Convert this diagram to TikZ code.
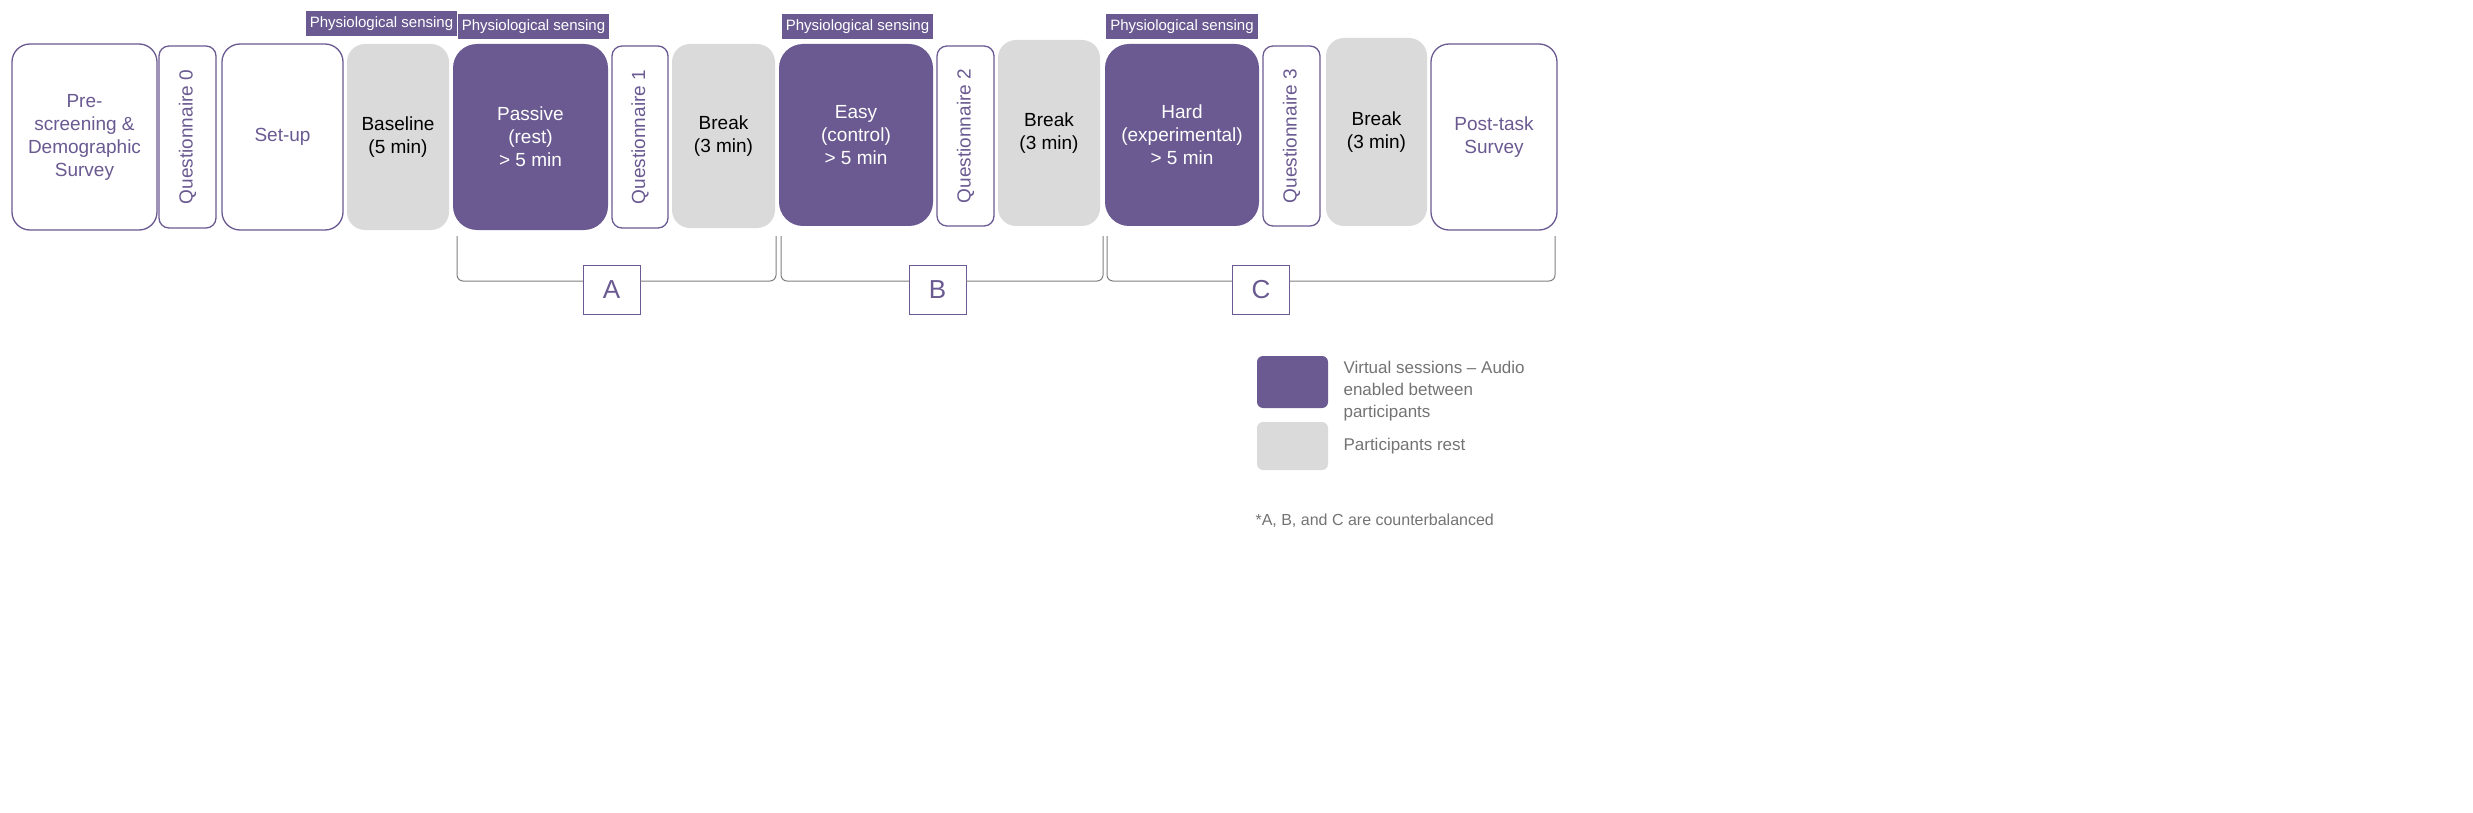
\documentclass[tikz,border=0pt]{standalone}
\usepackage{fontspec}
\setmainfont{Liberation Sans}
\definecolor{pur}{HTML}{6A5A91}
\definecolor{gr}{HTML}{DADADA}
\begin{document}
\begin{tikzpicture}[x=1pt,y=-1pt,
 base/.style={rounded corners=18pt,align=center,font=\fontsize{19}{23}\selectfont,inner sep=2pt},
 wbox/.style={base,draw=pur,line width=1.3pt,fill=white,text=pur},
 gbox/.style={base,fill=gr,text=black},
 pbox/.style={base,fill=pur,text=white,rounded corners=24pt},
 qbox/.style={wbox,rounded corners=10pt},
 tag/.style={fill=pur,text=white,font=\fontsize{15}{18}\selectfont,minimum height=25pt,inner sep=4pt},
 lbl/.style={draw=pur,line width=1pt,fill=white,font=\fontsize{26}{30}\selectfont,text=pur,minimum width=57pt,minimum height=49pt},
 br/.style={draw=gray,line width=1pt,rounded corners=6pt}]
\useasboundingbox (0,0) rectangle (2473,813);
\node[wbox,minimum width=145pt,minimum height=186pt] (pre) at (84.5,137) {Pre-\\screening \&\\Demographic\\Survey};
\node[qbox,minimum width=57pt,minimum height=182pt] (q0) at (187.5,137) {\rotatebox{90}{Questionnaire 0}};
\node[wbox,minimum width=121pt,minimum height=186pt] (set) at (282.5,137) {Set-up};
\node[gbox,minimum width=102pt,minimum height=186pt] (bas) at (398,137) {Baseline\\(5 min)};
\node[tag] (t0) at (381.5,24) {Physiological sensing};
\node[pbox,minimum width=155pt,minimum height=186pt] (pas) at (530.5,137) {Passive\\(rest)\\> 5 min};
\node[tag] (t1) at (533.5,27) {Physiological sensing};
\node[qbox,minimum width=56pt,minimum height=182pt] (q1) at (640,137) {\rotatebox{90}{Questionnaire 1}};
\node[gbox,minimum width=103pt,minimum height=184pt] (b1) at (723.5,136) {Break\\(3 min)};
\node[pbox,minimum width=154pt,minimum height=182pt] (easy) at (856,135) {Easy\\(control)\\> 5 min};
\node[tag] (t2) at (857.5,27) {Physiological sensing};
\node[qbox,minimum width=57pt,minimum height=180pt] (q2) at (965.5,136) {\rotatebox{90}{Questionnaire 2}};
\node[gbox,minimum width=102pt,minimum height=186pt] (b2) at (1049,133) {Break\\(3 min)};
\node[pbox,minimum width=154pt,minimum height=182pt] (hard) at (1182,135) {Hard\\(experimental)\\> 5 min};
\node[tag] (t3) at (1182,27) {Physiological sensing};
\node[qbox,minimum width=57pt,minimum height=180pt] (q3) at (1291.5,136) {\rotatebox{90}{Questionnaire 3}};
\node[gbox,minimum width=101pt,minimum height=188pt] (b3) at (1376.5,132) {Break\\(3 min)};
\node[wbox,minimum width=126pt,minimum height=186pt] (post) at (1494,137) {Post-task\\Survey};
\node[lbl] (A) at (611.5,289.5) {A};
\node[lbl] (B) at (937.5,289.5) {B};
\node[lbl] (C) at (1261,289.5) {C};
\coordinate (aL) at (583,281); \coordinate (aR) at (640,281);
\coordinate (bL) at (909,281); \coordinate (bR) at (966,281);
\coordinate (cL) at (1232.5,281); \coordinate (cR) at (1289.5,281);
\draw[br] (457,236) -- (457,281) -- (aL);
\draw[br] (776,236) -- (776,281) -- (aR);
\draw[br] (781,236) -- (781,281) -- (bL);
\draw[br] (1103,236) -- (1103,281) -- (bR);
\draw[br] (1107,236) -- (1107,281) -- (cL);
\draw[br] (1555,236) -- (1555,281) -- (cR);
\node[fill=pur,rounded corners=6pt,minimum width=71pt,minimum height=52pt] (lp) at (1292.5,382) {};
\node[fill=gr,rounded corners=6pt,minimum width=71pt,minimum height=48pt] (lg) at (1292.5,446) {};
\node[anchor=north west,align=left,text=gray!90!black,font=\fontsize{17}{22}\selectfont] (tp) at (1340,358) {Virtual sessions -- Audio\\enabled between\\participants};
\node[anchor=west,text=gray!90!black,font=\fontsize{17}{22}\selectfont] (tg) at (1340,446) {Participants rest};
\node[anchor=west,text=gray!90!black,font=\fontsize{16}{20}\selectfont] (fn) at (1252,521) {*A, B, and C are counterbalanced};
\end{tikzpicture}
\end{document}
